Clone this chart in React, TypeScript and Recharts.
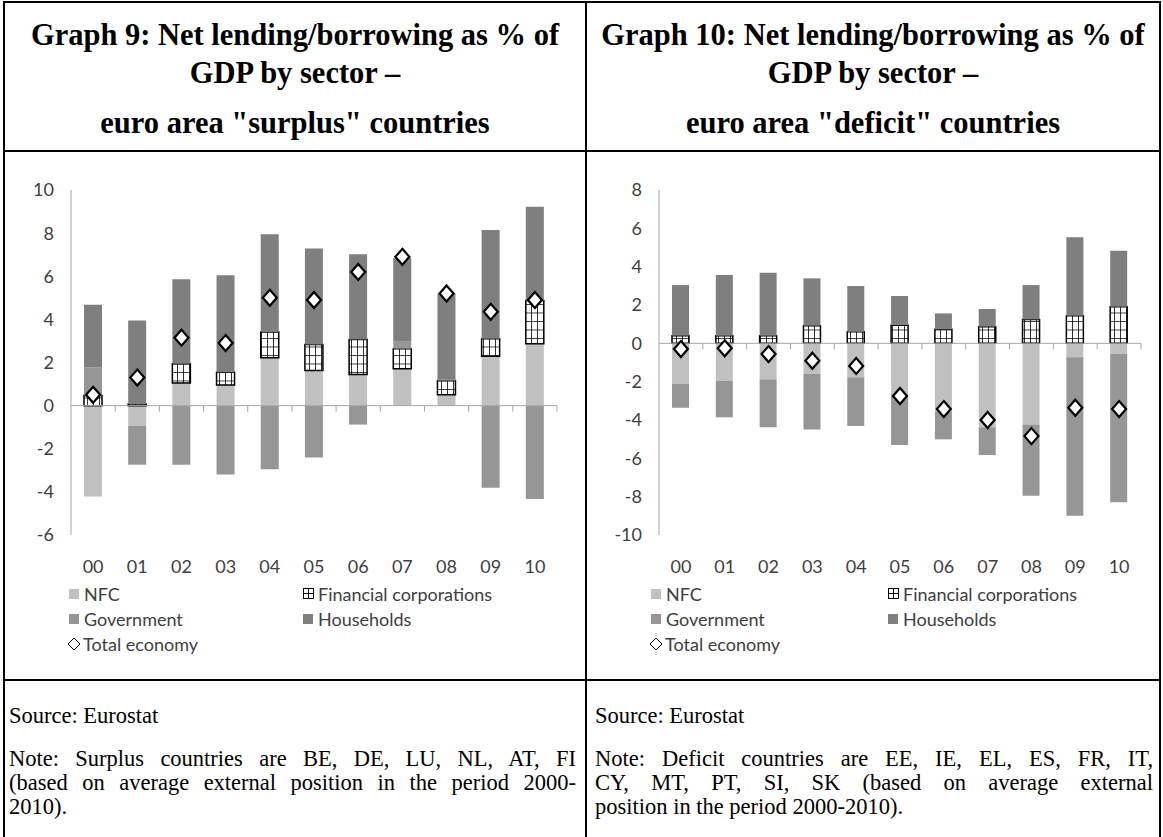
import React from 'react';
import { ComposedChart, Bar, Scatter, XAxis, YAxis, ReferenceLine } from 'recharts';

// years 2000-2010, shown as two-digit labels
const years = ['00', '01', '02', '03', '04', '05', '06', '07', '08', '09', '10'];

// Graph 9 - "surplus" countries, % of GDP
const surplusNfc = [-4.22, -0.93, 1.05, 0.96, 2.22, 1.63, 1.44, 1.71, 0.51, 2.29, 2.87];
const surplusFc = [0.47, 0.08, 0.89, 0.59, 1.19, 1.21, 1.63, 0.93, 0.65, 0.81, 2.01];
const surplusGov = [1.31, -1.81, -2.74, -3.19, -2.95, -2.4, -0.88, 0.35, 0.08, -3.81, -4.33];
const surplusHh = [2.9, 3.87, 3.92, 4.5, 4.54, 4.45, 3.95, 3.86, 3.96, 5.04, 4.34];
const surplusTotal = [0.5, 1.3, 3.15, 2.9, 5.0, 4.9, 6.2, 6.9, 5.2, 4.35, 4.9];
const surplusTicks = [-6, -4, -2, 0, 2, 4, 6, 8, 10];

// Graph 10 - "deficit" countries, % of GDP
const deficitNfc = [-2.12, -1.95, -1.88, -1.6, -1.77, -2.65, -3.55, -4.38, -4.23, -0.73, -0.56];
const deficitFc = [0.4, 0.4, 0.4, 0.92, 0.6, 0.95, 0.73, 0.87, 1.25, 1.44, 1.91];
const deficitGov = [-1.24, -1.91, -2.5, -2.89, -2.54, -2.66, -1.46, -1.45, -3.72, -8.26, -7.73];
const deficitHh = [2.64, 3.16, 3.28, 2.47, 2.39, 1.52, 0.83, 0.92, 1.79, 4.09, 2.92];
const deficitTotal = [-0.3, -0.26, -0.56, -0.91, -1.18, -2.75, -3.43, -4.0, -4.84, -3.36, -3.43];
const deficitTicks = [-10, -8, -6, -4, -2, 0, 2, 4, 6, 8];

const NFC_COLOR = '#c0c0c0';
const GOV_COLOR = '#969696';
const HH_COLOR = '#7f7f7f';
const AXIS_COLOR = '#a6a6a6';
const LABEL_COLOR = '#404040';
const CHART_FONT = 'Lato, "Open Sans", sans-serif';
const SERIF = '"Liberation Serif", "Times New Roman", serif';

const buildRows = (nfc: number[], fc: number[], gov: number[], hh: number[], total: number[]) =>
  years.map((year, i) => ({ year, nfc: nfc[i], fc: fc[i], gov: gov[i], hh: hh[i], total: total[i] }));

const surplusRows = buildRows(surplusNfc, surplusFc, surplusGov, surplusHh, surplusTotal);
const deficitRows = buildRows(deficitNfc, deficitFc, deficitGov, deficitHh, deficitTotal);

const Diamond = (props: any) => {
  const { cx, cy } = props;
  if (cx == null || cy == null) return null;
  return (
    <polygon
      points={`${cx},${cy - 8} ${cx + 7},${cy} ${cx},${cy + 8} ${cx - 7},${cy}`}
      fill="#fff"
      stroke="#000"
      strokeWidth={2.2}
    />
  );
};

// zero line with Excel-style tick marks between categories
const zeroAxis = (count: number) => (p: any) => {
  const { x1, x2, y1 } = p;
  const step = (x2 - x1) / count;
  const marks = [];
  for (let i = 1; i <= count; i++) {
    const x = x1 + i * step;
    marks.push(<line key={i} x1={x} x2={x} y1={y1} y2={y1 + 6} stroke={AXIS_COLOR} strokeWidth={1} />);
  }
  return (
    <g>
      <line x1={x1} x2={x2} y1={y1} y2={y1} stroke={AXIS_COLOR} strokeWidth={1} />
      {marks}
    </g>
  );
};

type SectorChartProps = {
  rows: any[];
  ticks: number[];
  patternId: string;
  width: number;
  axisWidth: number;
  rightMargin: number;
  barSize: number;
};

const SectorChart = ({ rows, ticks, patternId, width, axisWidth, rightMargin, barSize }: SectorChartProps) => (
  <ComposedChart
    width={width}
    height={434}
    data={rows}
    stackOffset="sign"
    margin={{ top: 39, right: rightMargin, left: 0, bottom: 0 }}
  >
    <defs>
      <pattern id={patternId} width={6} height={8.5} patternUnits="userSpaceOnUse">
        <rect width={6} height={8.5} fill="#fff" />
        <path d="M0 0 H6 M0 0 V8.5" stroke="#000" strokeWidth={1.6} />
      </pattern>
    </defs>
    <XAxis
      dataKey="year"
      height={50}
      axisLine={false}
      tickLine={false}
      tickSize={0}
      tickMargin={25}
      interval={0}
      tick={{ fill: LABEL_COLOR, fontSize: 18, fontFamily: CHART_FONT }}
    />
    <YAxis
      width={axisWidth}
      domain={[ticks[0], ticks[ticks.length - 1]]}
      ticks={ticks}
      interval={0}
      allowDataOverflow
      axisLine={{ stroke: AXIS_COLOR }}
      tickLine={false}
      tickSize={0}
      tickMargin={17}
      tick={{ fill: LABEL_COLOR, fontSize: 18, fontFamily: CHART_FONT }}
    />
    <Bar dataKey="nfc" name="NFC" stackId="s" fill={NFC_COLOR} barSize={barSize} isAnimationActive={false} />
    <Bar
      dataKey="fc"
      name="Financial corporations"
      stackId="s"
      fill={`url(#${patternId})`}
      stroke="#000"
      strokeWidth={1.5}
      barSize={barSize}
      isAnimationActive={false}
    />
    <Bar dataKey="gov" name="Government" stackId="s" fill={GOV_COLOR} barSize={barSize} isAnimationActive={false} />
    <Bar dataKey="hh" name="Households" stackId="s" fill={HH_COLOR} barSize={barSize} isAnimationActive={false} />
    <ReferenceLine y={0} shape={zeroAxis(years.length)} />
    <Scatter dataKey="total" name="Total economy" shape={Diamond} isAnimationActive={false} />
  </ComposedChart>
);

const Swatch = ({ color }: { color: string }) => (
  <span style={{ display: 'inline-block', width: 10, height: 10, background: color, marginRight: 5 }} />
);

const GridIcon = () => (
  <svg width={12} height={12} style={{ marginRight: 3 }}>
    <rect x={0.5} y={0.5} width={10} height={10} fill="#fff" stroke="#000" strokeWidth={1} />
    <path d="M5.5 0.5 V10.5 M0.5 5.5 H10.5" stroke="#000" strokeWidth={1} />
  </svg>
);

const DiamondIcon = () => (
  <svg width={14} height={14} style={{ marginRight: 2 }}>
    <polygon points="7,1 13,7 7,13 1,7" fill="#fff" stroke="#000" strokeWidth={1} />
  </svg>
);

const legendItem = (icon: React.ReactNode, label: string, left: number, top: number) => (
  <div
    key={label}
    style={{
      position: 'absolute',
      left,
      top,
      height: 24,
      display: 'flex',
      alignItems: 'center',
      whiteSpace: 'nowrap',
      fontFamily: CHART_FONT,
      fontSize: 18,
      color: LABEL_COLOR,
    }}
  >
    {icon}
    {label}
  </div>
);

const SectorLegend = ({ left, colGap }: { left: number; colGap: number }) => (
  <>
    {legendItem(<Swatch color={NFC_COLOR} />, 'NFC', left, 582)}
    {legendItem(<GridIcon />, 'Financial corporations', left + colGap, 582)}
    {legendItem(<Swatch color={GOV_COLOR} />, 'Government', left, 607)}
    {legendItem(<Swatch color={HH_COLOR} />, 'Households', left + colGap, 607)}
    {legendItem(<DiamondIcon />, 'Total economy', left - 2, 632)}
  </>
);

const rule = (left: number, top: number, width: number, height: number) => (
  <div style={{ position: 'absolute', left, top, width, height, background: '#000' }} />
);

const titleStyle: React.CSSProperties = {
  position: 'absolute',
  textAlign: 'center',
  fontFamily: SERIF,
  fontWeight: 'bold',
  fontSize: 30.5,
  lineHeight: '38px',
  color: '#000',
  whiteSpace: 'nowrap',
};

const noteStyle: React.CSSProperties = {
  fontFamily: SERIF,
  fontSize: 22.5,
  lineHeight: '24px',
  color: '#000',
  whiteSpace: 'nowrap',
};

const justified = (text: string) => (
  <div style={{ ...noteStyle, textAlign: 'justify', textAlignLast: 'justify' }}>{text}</div>
);

const App = () => (
  <div style={{ position: 'absolute', left: 0, top: 0, width: 1163, height: 837, background: '#fff', overflow: 'hidden' }}>
    {rule(3, 1, 1158, 2)}
    {rule(3, 1, 2, 836)}
    {rule(585, 1, 2, 836)}
    {rule(1159, 1, 2, 836)}
    {rule(3, 150, 1158, 2)}
    {rule(3, 679, 1158, 2)}

    <div style={{ ...titleStyle, left: 5, width: 580, top: 16 }}>
      Graph 9: Net lending/borrowing as % of
      <br />
      GDP by sector –
    </div>
    <div style={{ ...titleStyle, left: 5, width: 580, top: 104 }}>euro area "surplus" countries</div>
    <div style={{ ...titleStyle, left: 587, width: 572, top: 16 }}>
      Graph 10: Net lending/borrowing as % of
      <br />
      GDP by sector –
    </div>
    <div style={{ ...titleStyle, left: 587, width: 572, top: 104 }}>euro area "deficit" countries</div>

    <div style={{ position: 'absolute', left: 3, top: 151 }}>
      <SectorChart
        rows={surplusRows}
        ticks={surplusTicks}
        patternId="fcGridSurplus"
        width={583}
        axisWidth={68}
        rightMargin={29}
        barSize={18}
      />
    </div>
    <SectorLegend left={69} colGap={234} />

    <div style={{ position: 'absolute', left: 586, top: 151 }}>
      <SectorChart
        rows={deficitRows}
        ticks={deficitTicks}
        patternId="fcGridDeficit"
        width={574}
        axisWidth={73}
        rightMargin={19}
        barSize={17}
      />
    </div>
    <SectorLegend left={651} colGap={237} />

    <div style={{ position: 'absolute', left: 9, top: 704, width: 567 }}>
      <div style={noteStyle}>Source: Eurostat</div>
      <div style={{ height: 19 }} />
      {justified('Note: Surplus countries are BE, DE, LU, NL, AT, FI')}
      {justified('(based on average external position in the period 2000-')}
      <div style={noteStyle}>2010).</div>
    </div>
    <div style={{ position: 'absolute', left: 595, top: 704, width: 558 }}>
      <div style={noteStyle}>Source: Eurostat</div>
      <div style={{ height: 19 }} />
      {justified('Note: Deficit countries are EE, IE, EL, ES, FR, IT,')}
      {justified('CY, MT, PT, SI, SK (based on average external')}
      <div style={noteStyle}>position in the period 2000-2010).</div>
    </div>
  </div>
);

export default App;
